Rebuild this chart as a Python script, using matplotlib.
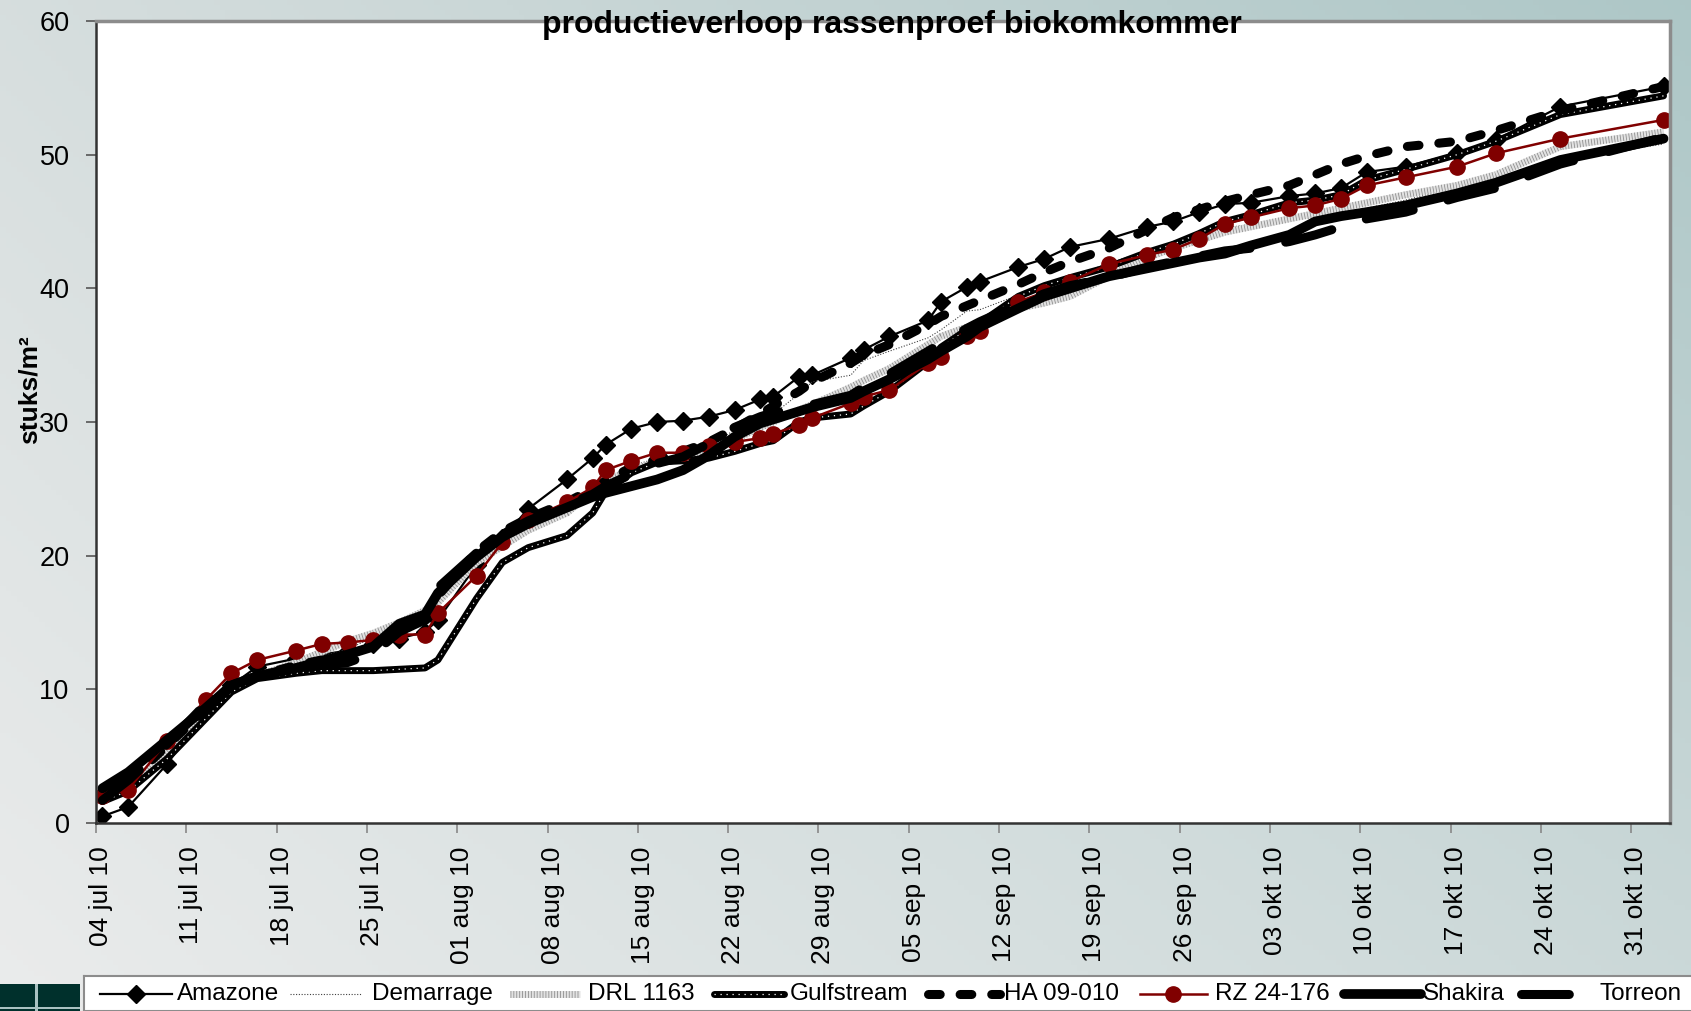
import numpy as np
import matplotlib
matplotlib.use("Agg")
import matplotlib.pyplot as plt
import matplotlib.dates as mdates
from matplotlib.patches import Rectangle
from matplotlib.transforms import ScaledTranslation

plt.rcParams['font.family'] = ['Liberation Sans', 'DejaVu Sans']

# ---------------- data ----------------
title = "productieverloop rassenproef biokomkommer"
y_label = "stuks/m²"

harvest_dates = [
    "2010-07-04", "2010-07-06", "2010-07-09", "2010-07-12", "2010-07-14", "2010-07-16",
    "2010-07-19", "2010-07-21", "2010-07-23", "2010-07-25", "2010-07-27", "2010-07-29",
    "2010-07-30", "2010-08-02", "2010-08-04", "2010-08-06", "2010-08-09", "2010-08-11",
    "2010-08-12", "2010-08-14", "2010-08-16", "2010-08-18", "2010-08-20", "2010-08-22",
    "2010-08-24", "2010-08-25", "2010-08-27", "2010-08-28", "2010-08-31", "2010-09-01",
    "2010-09-03", "2010-09-06", "2010-09-07", "2010-09-09", "2010-09-10", "2010-09-13",
    "2010-09-15", "2010-09-17", "2010-09-20", "2010-09-23", "2010-09-25", "2010-09-27",
    "2010-09-29", "2010-10-01", "2010-10-04", "2010-10-06", "2010-10-08", "2010-10-10",
    "2010-10-13", "2010-10-17", "2010-10-20", "2010-10-25", "2010-11-02",
]

amazone = [0.5, 1.2, 4.4, 8.4, 10.3, 11.7, 12.3, 12.6, 12.9, 13.4, 13.8, 14.3,
           15.2, 19.3, 21.3, 23.5, 25.7, 27.3, 28.3, 29.5, 30.0, 30.1, 30.4, 30.9,
           31.7, 31.9, 33.4, 33.5, 34.8, 35.4, 36.4, 37.6, 39.0, 40.1, 40.5, 41.6,
           42.2, 43.1, 43.7, 44.6, 45.0, 45.7, 46.3, 46.4, 46.9, 47.1, 47.5, 48.7,
           49.1, 50.1, 51.1, 53.6, 55.1]

demarrage = [2.0, 2.8, 5.6, 8.4, 10.0, 10.9, 11.8, 12.5, 13.0, 13.9, 15.0, 15.8,
             17.2, 19.8, 21.2, 22.3, 23.5, 25.0, 25.8, 26.7, 27.3, 27.5, 28.2, 29.4,
             30.2, 30.6, 32.1, 33.0, 33.5, 34.6, 35.3, 36.3, 36.9, 38.3, 38.4, 39.5,
             40.2, 40.8, 41.9, 42.8, 43.5, 44.0, 44.5, 44.8, 45.1, 45.3, 45.6, 46.0,
             46.6, 47.6, 48.3, 49.6, 50.8]

drl_1163 = [1.8, 2.6, 5.2, 8.2, 10.0, 11.0, 12.0, 12.8, 13.6, 14.2, 15.0, 15.9,
            16.5, 19.5, 20.7, 21.9, 23.2, 24.8, 25.6, 26.4, 27.0, 27.3, 27.9, 28.7,
            29.6, 30.0, 30.9, 31.3, 32.6, 33.1, 34.0, 35.8, 36.4, 37.1, 37.4, 38.5,
            38.9, 39.4, 40.9, 42.3, 43.0, 43.6, 44.2, 44.6, 45.2, 45.6, 46.0, 46.4,
            47.0, 47.7, 48.5, 50.6, 51.7]

gulfstream = [1.6, 2.4, 4.8, 7.8, 9.8, 10.8, 11.2, 11.4, 11.4, 11.4, 11.5, 11.6,
              12.2, 16.8, 19.5, 20.6, 21.5, 23.2, 24.8, 26.2, 27.0, 27.1, 27.3, 27.8,
              28.4, 28.6, 30.0, 30.3, 30.6, 31.2, 32.3, 34.5, 35.6, 36.9, 37.4, 39.4,
              40.2, 40.8, 41.6, 42.7, 43.3, 44.1, 45.0, 45.5, 46.4, 46.6, 47.0, 48.1,
              48.9, 50.0, 51.0, 53.0, 54.4]

ha_09_010 = [1.9, 3.0, 5.8, 8.5, 10.2, 11.0, 11.8, 12.2, 12.6, 13.3, 14.5, 15.0,
             17.0, 20.3, 21.8, 22.8, 24.0, 25.0, 25.6, 26.6, 27.2, 27.8, 28.5, 29.5,
             30.6, 31.2, 32.3, 33.0, 34.4, 35.0, 35.8, 37.3, 37.9, 38.7, 39.1, 40.3,
             41.2, 42.0, 43.0, 44.4, 45.3, 45.9, 46.5, 47.0, 47.7, 48.5, 49.3, 49.9,
             50.6, 51.0, 51.8, 53.3, 55.1]

rz_24_176 = [2.0, 2.5, 6.1, 9.2, 11.2, 12.2, 12.9, 13.4, 13.5, 13.7, 14.1, 14.1,
             15.7, 18.5, 21.0, 22.7, 24.0, 25.1, 26.4, 27.1, 27.7, 27.7, 28.2, 28.5,
             28.8, 29.1, 29.8, 30.3, 31.4, 31.9, 32.4, 34.4, 34.9, 36.4, 36.8, 39.0,
             39.7, 40.5, 41.8, 42.5, 42.9, 43.7, 44.8, 45.3, 46.0, 46.2, 46.7, 47.7,
             48.3, 49.1, 50.1, 51.2, 52.6]

shakira = [2.6, 3.8, 6.2, 8.6, 10.3, 11.0, 11.6, 12.1, 12.6, 13.2, 14.9, 15.6,
           17.2, 19.9, 21.4, 22.4, 23.6, 24.4, 24.7, 25.2, 25.7, 26.4, 27.5, 28.9,
           29.9, 30.2, 30.8, 31.1, 31.8, 32.3, 33.2, 34.7, 35.3, 36.4, 37.1, 38.5,
           39.4, 40.0, 40.9, 41.5, 41.9, 42.3, 42.6, 43.2, 44.0, 45.0, 45.4, 45.7,
           46.2, 47.1, 47.9, 49.6, 51.2]

torreon = [1.7, 3.2, 5.9, 8.9, 10.3, 11.0, 11.5, 11.8, 12.0, 12.7, 14.3, 15.2,
           17.6, 20.2, 21.6, 22.6, 23.8, 24.6, 25.2, 26.1, 26.9, 27.4, 28.4, 29.6,
           30.4, 30.7, 31.1, 31.3, 32.0, 32.6, 33.6, 35.3, 35.9, 37.0, 37.5, 38.8,
           39.6, 40.2, 40.8, 41.6, 42.0, 42.4, 42.8, 43.0, 43.5, 44.0, 44.6, 45.2,
           45.7, 46.8, 47.5, 49.3, 51.3]

series_names = ["Amazone", "Demarrage", "DRL 1163", "Gulfstream", "HA 09-010",
                "RZ 24-176", "Shakira", "Torreon"]
series_values = [amazone, demarrage, drl_1163, gulfstream, ha_09_010,
                 rz_24_176, shakira, torreon]

tick_dates = ["2010-07-04", "2010-07-11", "2010-07-18", "2010-07-25", "2010-08-01",
              "2010-08-08", "2010-08-15", "2010-08-22", "2010-08-29", "2010-09-05",
              "2010-09-12", "2010-09-19", "2010-09-26", "2010-10-03", "2010-10-10",
              "2010-10-17", "2010-10-24", "2010-10-31"]
tick_labels = ["04 jul 10", "11 jul 10", "18 jul 10", "25 jul 10", "01 aug 10",
               "08 aug 10", "15 aug 10", "22 aug 10", "29 aug 10", "05 sep 10",
               "12 sep 10", "19 sep 10", "26 sep 10", "03 okt 10", "10 okt 10",
               "17 okt 10", "24 okt 10", "31 okt 10"]
x_min_date, x_max_date = "2010-07-04", "2010-11-03"
y_ticks = [0, 10, 20, 30, 40, 50, 60]

# ---------------- styles ----------------
styles = {
    "Amazone": [dict(color="black", lw=1.6, marker="D", ms=9, mfc="black", mec="black")],
    "Demarrage": [dict(color="#404040", lw=0.8, ls=(0, (1, 1.5)))],
    "DRL 1163": [dict(color="#e2e2e2", lw=5, solid_capstyle="butt"),
                 dict(color="#8f8f8f", lw=5, ls=(0, (0.12, 0.3)))],
    "Gulfstream": [dict(color="black", lw=5, solid_capstyle="round"),
                   dict(color="white", lw=0.9, ls=(0, (1, 3.8)))],
    "HA 09-010": [dict(color="black", lw=6.5, ls=(0, (1.3, 2.2)), dash_capstyle="round")],
    "RZ 24-176": [dict(color="#800000", lw=1.8, marker="o", ms=11, mfc="#800000", mec="#800000")],
    "Shakira": [dict(color="black", lw=7, solid_capstyle="round", solid_joinstyle="round")],
    "Torreon": [dict(color="black", lw=6.5, ls=(0, (5.3, 4.0)), dash_capstyle="round")],
}

W, H = 1691, 1011
fig = plt.figure(figsize=(W / 100, H / 100), dpi=100)

# background gradient
bg = fig.add_axes([0, 0, 1, 1], zorder=-10)
gx = np.linspace(0, 1, 300)[None, :, None]
gy = np.linspace(0, 1, 200)[:, None, None]  # 0 top, 1 bottom
TL = np.array([0.84, 0.87, 0.87]); TR = np.array([0.68, 0.78, 0.78])
BL = np.array([0.92, 0.925, 0.925]); BR = np.array([0.80, 0.85, 0.85])
img = (TL * (1 - gx) * (1 - gy) + TR * gx * (1 - gy) + BL * (1 - gx) * gy + BR * gx * gy)
bg.imshow(img, aspect="auto", extent=[0, 1, 0, 1])
bg.set_axis_off()

# decorative teal blocks bottom-left
fig.patches.append(Rectangle((0, 0), 80 / W, 27 / H, transform=fig.transFigure,
                             facecolor="#00302c", edgecolor="none", zorder=-5))
fig.patches.append(Rectangle((35 / W, 0), 3 / W, 27 / H, transform=fig.transFigure,
                             facecolor="#a9c2c2", edgecolor="none", zorder=-4))
fig.patches.append(Rectangle((0, 2 / H), 80 / W, 2 / H, transform=fig.transFigure,
                             facecolor="#a9c2c2", edgecolor="none", zorder=-4))

ax = fig.add_axes([96 / W, 1 - 823 / H, (1670 - 96) / W, (823 - 21) / H])
ax.set_facecolor("white")

x = mdates.datestr2num(harvest_dates) + 0.5  # Excel: points between tick marks

for name, vals in zip(series_names, series_values):
    for st in styles[name]:
        ax.plot(x, vals, **st)

ax.set_xlim(mdates.datestr2num(x_min_date), mdates.datestr2num(x_max_date))
ax.set_ylim(0, 60)
ax.set_yticks(y_ticks)
ax.set_xticks(mdates.datestr2num(tick_dates))
ax.set_xticklabels(tick_labels, rotation=90)
ax.tick_params(axis="y", labelsize=19.5, length=7, width=1.2, color="#555555", pad=12)
ax.tick_params(axis="x", labelsize=19, length=7, width=1.2, color="#888888", pad=10)
for lab in ax.get_xticklabels():
    lab.set_transform(lab.get_transform() + ScaledTranslation(5 / 100, 0, fig.dpi_scale_trans))

for s in ["left", "bottom"]:
    ax.spines[s].set_color("#333333")
    ax.spines[s].set_linewidth(1.8)
for s in ["top", "right"]:
    ax.spines[s].set_color("#8c8c8c")
    ax.spines[s].set_linewidth(2.5)

fig.text(892 / W, 1 - 25 / H, title, ha="center", va="center", fontsize=23,
         fontweight="bold", zorder=10)
fig.text(30 / W, 1 - 390 / H, y_label, rotation=90, ha="center", va="center",
         fontsize=19, fontweight="bold")

# legend (manual, in pixel units)
lax = fig.add_axes([84 / W, 0, (W - 84 + 20) / W, 35 / H])
lax.set_xlim(84, W + 20)
lax.set_ylim(0, 35)
lax.set_facecolor("white")
lax.set_xticks([]); lax.set_yticks([])
for s in lax.spines.values():
    s.set_color("#8c8c8c"); s.set_linewidth(1.5)
leg_handle_x = [(100, 172), (290, 362), (510, 580), (714, 784), (928, 1000),
                (1140, 1207), (1344, 1421), (1521, 1582)]
leg_text_x = [177, 372, 588, 790, 1004, 1215, 1423, 1600]
yc = 17
for name, (h0, h1), tx in zip(series_names, leg_handle_x, leg_text_x):
    for st in styles[name]:
        st2 = dict(st)
        if "marker" in st2:
            st2["markevery"] = [1]
        lax.plot([h0, (h0 + h1) / 2, h1], [yc, yc, yc], **st2)
    lax.text(tx, yc, name, ha="left", va="center", fontsize=17.5)

fig.savefig("out.png", dpi=100)
